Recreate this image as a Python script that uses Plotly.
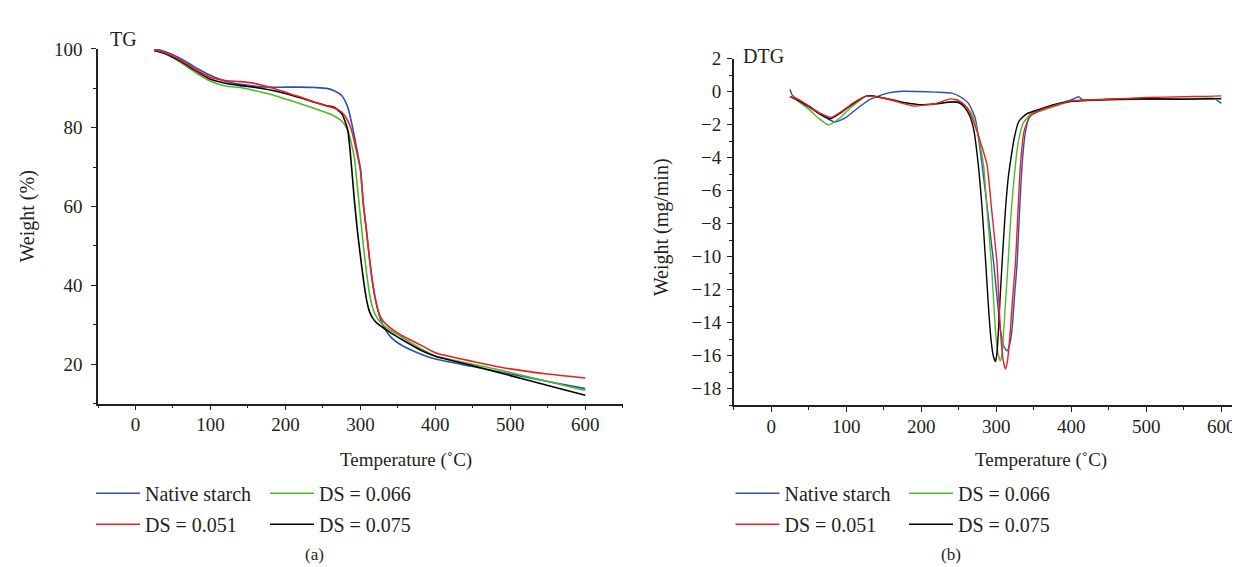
import plotly.graph_objects as go

W, H = 1240, 567
FONT = "Liberation Serif"
INK = "#231f20"

# ---------------- data ----------------
names = ["Native starch", "DS = 0.051", "DS = 0.066", "DS = 0.075"]
colors = ["#2c4fb0", "#ee1d23", "#4cbb2a", "#000000"]

# TG (weight %)
tg_temp = [25, 40, 60, 80, 100, 120, 140, 160, 180, 200, 220, 240, 255, 265, 275, 283,
           288, 292, 296, 300, 304, 308, 312, 316, 320, 325, 330, 340, 355, 380, 400,
           450, 500, 550, 600]
tg_native = [100.1, 99.3, 97.6, 95.3, 93.3, 91.8, 91.0, 90.5, 90.3, 90.3, 90.3, 90.2, 90.0,
             89.4, 88.2, 85.3, 81.5, 77.8, 73.8, 69.5, 60.5, 54.0, 47.0, 41.0, 36.5, 32.5,
             30.0, 27.0, 24.8, 22.6, 21.3, 19.4, 17.5, 15.6, 13.8]
tg_ds051 = [99.8, 99.0, 97.2, 94.8, 92.8, 92.0, 91.7, 91.2, 90.2, 89.0, 87.8, 86.4, 85.5,
            85.0, 84.0, 81.9, 79.5, 76.5, 73.0, 69.5, 60.5, 54.0, 47.0, 41.0, 36.5, 32.8,
            31.0, 29.2, 27.3, 24.9, 22.9, 20.7, 18.8, 17.5, 16.5]
tg_ds066 = [99.7, 98.8, 96.6, 94.0, 91.8, 90.6, 90.2, 89.4, 88.5, 87.3, 86.1, 84.8, 83.8,
            83.0, 81.7, 79.5, 76.0, 72.3, 65.0, 57.5, 50.0, 43.5, 38.0, 34.5, 32.5, 31.0,
            30.0, 28.6, 26.9, 24.0, 22.1, 20.0, 17.9, 15.6, 13.3]
tg_ds075 = [99.6, 98.8, 96.9, 94.5, 92.3, 91.3, 90.7, 90.2, 89.6, 88.7, 87.6, 86.4, 85.6,
            85.2, 83.6, 79.5, 70.5, 61.5, 53.9, 47.5, 41.5, 36.5, 33.4, 31.8, 30.8, 30.0,
            29.3, 28.0, 26.3, 23.6, 22.0, 19.6, 17.1, 14.6, 12.1]

# DTG (mg/min)
dtg_native_t = [25, 28, 35, 50, 65, 85, 100, 115, 130, 142, 155, 174, 195, 219, 241, 252, 263,
                272, 281, 290, 296.6, 302, 305.5, 310, 314.4, 318, 321, 324.5, 327.8, 331,
                334.5, 339, 345, 360, 380, 400, 410, 415, 450, 500, 550, 590, 600]
dtg_native = [0.15, -0.2, -0.45, -0.85, -1.35, -1.83, -1.55, -1.0, -0.5, -0.28, -0.08, 0.03,
              0.02, -0.02, -0.08, -0.3, -0.7, -1.6, -4.4, -7.8, -10.4, -12.9, -14.4, -15.4,
              -15.7, -15.3, -14.4, -12.3, -10.4, -7.3, -4.4, -2.4, -1.4, -1.1, -0.75, -0.5,
              -0.3, -0.5, -0.45, -0.45, -0.45, -0.4, -0.7]
dtg_ds051_t = [25, 35, 50, 65, 80, 95, 110, 128, 145, 160, 175, 190, 205, 220, 239, 250, 258,
               265, 272, 280, 287.6, 294, 301, 305.5, 309, 312.2, 315, 318.9, 322, 325.6, 329,
               332.3, 337, 345, 360, 380, 400, 450, 500, 550, 580, 600]
dtg_ds051 = [-0.3, -0.45, -0.85, -1.3, -1.55, -1.15, -0.65, -0.25, -0.35, -0.5, -0.7, -0.87,
             -0.8, -0.7, -0.43, -0.53, -0.8, -1.3, -2.1, -3.2, -4.4, -7.2, -10.4, -14.4, -16.2,
             -16.8, -16.3, -14.4, -12.4, -10.4, -7.2, -4.4, -2.4, -1.5, -1.1, -0.8, -0.55,
             -0.45, -0.35, -0.3, -0.28, -0.25]
dtg_ds066_t = [25, 35, 50, 63, 76, 90, 105, 128, 145, 165, 180, 195, 215, 237, 250, 260, 268,
               275, 283, 288, 293.5, 298.8, 302, 305.5, 308, 310, 313, 315.7, 320, 325.6, 330,
               336, 345, 360, 380, 400, 450, 500, 550, 600]
dtg_ds066 = [-0.3, -0.55, -1.05, -1.6, -2.0, -1.65, -1.0, -0.25, -0.35, -0.5, -0.7, -0.78,
             -0.78, -0.63, -0.6, -0.9, -1.4, -2.4, -4.4, -7.3, -10.4, -14.4, -15.8, -16.3,
             -15.8, -14.4, -12.3, -10.4, -7.2, -4.4, -2.9, -1.9, -1.4, -1.15, -0.85, -0.6,
             -0.5, -0.45, -0.45, -0.45]
dtg_ds075_t = [25, 35, 50, 65, 79, 95, 110, 127, 145, 165, 185, 200, 220, 240, 250, 258, 265,
               270, 276, 281, 286, 290, 293, 296, 299, 301, 303, 305, 308, 312, 316, 319, 324,
               330, 340, 355, 375, 400, 450, 500, 550, 600]
dtg_ds075 = [-0.3, -0.5, -0.9, -1.35, -1.63, -1.2, -0.7, -0.25, -0.33, -0.55, -0.7, -0.78,
             -0.72, -0.62, -0.65, -0.95, -1.5, -2.3, -4.4, -7.0, -10.4, -13.3, -15.0, -16.0,
             -16.35, -15.8, -14.4, -12.6, -10.2, -7.3, -5.2, -4.2, -2.8, -1.8, -1.35, -1.1,
             -0.8, -0.58, -0.47, -0.42, -0.45, -0.4]

x_ticks = [0, 100, 200, 300, 400, 500, 600]

# ---------------- figure ----------------
def fx(p):
    return p / W


def fy(p):
    return 1 - p / H


fig = go.Figure()

tg_series = [tg_native, tg_ds051, tg_ds066, tg_ds075]
dtg_series = [(dtg_native_t, dtg_native), (dtg_ds051_t, dtg_ds051),
              (dtg_ds066_t, dtg_ds066), (dtg_ds075_t, dtg_ds075)]
left_leg = ["legend", "legend", "legend2", "legend2"]
right_leg = ["legend3", "legend3", "legend4", "legend4"]
draw_order = [0, 2, 3, 1]

for i in draw_order:
    fig.add_trace(go.Scatter(
        x=tg_temp, y=tg_series[i], mode="lines", name=names[i],
        line=dict(color=colors[i], width=1.6, shape="spline", smoothing=0.6),
        xaxis="x", yaxis="y", legend=left_leg[i], legendgroup="L%d" % i,
        legendrank=[1, 2, 1, 2][i]))
for i in draw_order:
    t, v = dtg_series[i]
    fig.add_trace(go.Scatter(
        x=t, y=v, mode="lines", name=names[i],
        line=dict(color=colors[i], width=1.4, shape="spline", smoothing=0.5),
        xaxis="x2", yaxis="y2", legend=right_leg[i], legendgroup="R%d" % i,
        legendrank=[1, 2, 1, 2][i]))

tickfont = dict(family=FONT, size=19, color=INK)
common_x = dict(showline=True, linecolor=INK, linewidth=1.5, ticks="outside", ticklen=5,
                tickwidth=1.3, tickcolor=INK, tickvals=x_ticks, showgrid=False,
                zeroline=False, tickfont=tickfont, ticklabelstandoff=-2,
                minor=dict(ticks="outside", ticklen=3, tickwidth=1.2, tickcolor=INK,
                           dtick=50, tick0=0, showgrid=False))
common_y = dict(showline=True, linecolor=INK, linewidth=1.5, ticks="outside", ticklen=5,
                tickwidth=1.3, tickcolor=INK, showgrid=False, zeroline=False,
                tickfont=tickfont)

leg_common = dict(orientation="v", font=dict(family=FONT, size=20, color=INK),
                  bgcolor="rgba(0,0,0,0)", xanchor="left", yanchor="top",
                  tracegroupgap=2, itemwidth=44)

fig.update_layout(
    width=W, height=H, margin=dict(l=0, r=0, t=0, b=0),
    paper_bgcolor="white", plot_bgcolor="white",
    font=dict(family=FONT, color=INK),
    xaxis=dict(domain=[fx(90), fx(614.8)], range=[-50, 650], anchor="y", **common_x),
    yaxis=dict(domain=[fy(392.5), fy(31.5)], range=[10, 100], anchor="x",
               tick0=0, dtick=20, ticklabelstandoff=5,
               minor=dict(ticks="outside", ticklen=3, tickwidth=1.2, tickcolor=INK,
                          dtick=10, tick0=0, showgrid=False), **common_y),
    xaxis2=dict(domain=[fx(725.7), 1.0], range=[-50, 635.6], anchor="y2", **common_x),
    yaxis2=dict(domain=[fy(394.3), fy(41.5)], range=[-19, 2], anchor="x2",
                tick0=0, dtick=2, ticklabelstandoff=2,
                minor=dict(ticks="outside", ticklen=3, tickwidth=1.2, tickcolor=INK,
                           dtick=1, tick0=0, showgrid=False), **common_y),
    legend=dict(x=fx(83), y=fy(464), **leg_common),
    legend2=dict(x=fx(257), y=fy(464), **leg_common),
    legend3=dict(x=fx(722.5), y=fy(464), **leg_common),
    legend4=dict(x=fx(896), y=fy(464), **leg_common),
    showlegend=True,
)


def note(text, x, y, size=20, angle=0):
    return dict(text=text, x=fx(x), y=fy(y), xref="paper", yref="paper",
                xanchor="center", yanchor="middle", showarrow=False, textangle=angle,
                font=dict(family=FONT, size=size, color=INK))


annotations = [
    note("TG", 115, 21.5),
    note("DTG", 755.5, 39),
    note("Weight (%)", 19, 202, angle=-90),
    note("Weight (mg/min)", 653, 213, angle=-90),
    note("Temperature (˚C)", 398, 450, size=19),
    note("Temperature (˚C)", 1033, 450, size=19),
    note("(a)", 306, 546, size=17),
    note("(b)", 942.5, 546, size=17),
]
fig.update_layout(annotations=annotations)

fig.write_html("out.html")
